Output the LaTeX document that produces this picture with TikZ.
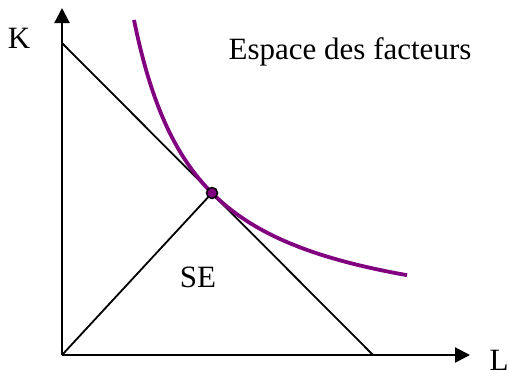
\documentclass[tikz,border=0pt]{standalone}
\usepackage{fontspec}
\setmainfont{Liberation Serif}
\usepackage{xcolor}
\usetikzlibrary{arrows.meta}
\definecolor{isoq}{RGB}{128,0,128}

\begin{document}
\begin{tikzpicture}[x=1pt,y=-1pt,
    axe/.style={line width=2.2pt, -{Triangle[length=15pt,width=15pt]}},
    trait/.style={line width=1.8pt},
    lab/.style={font=\fontsize{31}{35}\selectfont, inner sep=0pt}]
    \useasboundingbox (0,0) rectangle (508,376);

    % Origin and axes
    \coordinate (O) at (62,355);
    \coordinate (Ky) at (62,8);
    \coordinate (Lx) at (470,355);
    \draw[axe] (O) -- (Ky);
    \draw[axe] (O) -- (Lx);
    \node[lab] (K) at (19,38) {K};
    \node[lab] (L) at (499,360) {L};

    % Budget line
    \coordinate (Bk) at (62,43);
    \coordinate (Bl) at (373,355);
    \draw[trait] (Bk) -- (Bl);

    % Isoquant (hyperbola tangent to the budget line)
    \draw[isoq, line width=3.8pt] plot[domain=134:407, samples=120]
      (\x, {335 - 142*(142/(\x-70))});

    % Optimum and expansion path
    \coordinate (E) at (212,193);
    \draw[trait] (O) -- (E);
    \fill[isoq, draw=black, line width=1.5pt] (E) circle (5.5pt);

    % Labels
    \node[lab] (SE) at (198,277) {SE};
    \node[lab] (esp) at (350,52) {Espace des facteurs};
\end{tikzpicture}
\end{document}
